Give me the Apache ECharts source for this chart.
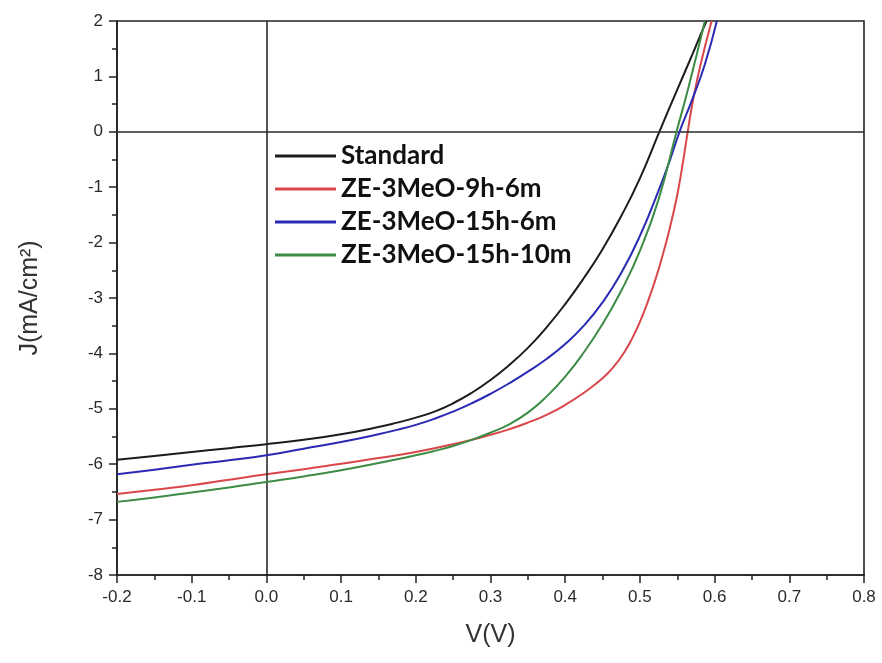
<!DOCTYPE html>
<html>
<head>
<meta charset="utf-8">
<script src="https://cdn.jsdelivr.net/npm/echarts@6/dist/echarts.min.js"></script>
<style>
html,body{margin:0;padding:0;background:#fff;}
#chart{width:882px;height:663px;}
</style>
</head>
<body>
<div id="chart"></div>
<script>
// X tick values (V) and Y tick values (J)
const xTicks = [-0.2, -0.1, 0.0, 0.1, 0.2, 0.3, 0.4, 0.5, 0.6, 0.7, 0.8];
const yTicks = [-8, -7, -6, -5, -4, -3, -2, -1, 0, 1, 2];
const seriesNames = ["Standard", "ZE-3MeO-9h-6m", "ZE-3MeO-15h-6m", "ZE-3MeO-15h-10m"];

// Standard (black)
const vStandard = [-0.2, -0.15, -0.1, -0.05, 0.0, 0.05, 0.1, 0.15, 0.175, 0.2, 0.225, 0.25, 0.275, 0.3, 0.325, 0.35, 0.375, 0.4, 0.425, 0.45, 0.475, 0.5, 0.526, 0.55, 0.57, 0.589];
const jStandard = [-5.92, -5.85, -5.78, -5.71, -5.64, -5.56, -5.46, -5.33, -5.25, -5.16, -5.05, -4.90, -4.71, -4.48, -4.21, -3.90, -3.53, -3.11, -2.64, -2.12, -1.52, -0.84, 0.0, 0.76, 1.39, 2.0];
// ZE-3MeO-9h-6m (red)
const vRed = [-0.2, -0.15, -0.1, -0.05, 0.0, 0.05, 0.1, 0.15, 0.2, 0.25, 0.3, 0.325, 0.35, 0.375, 0.4, 0.425, 0.45, 0.465, 0.48, 0.49, 0.5, 0.51, 0.52, 0.53, 0.54, 0.55, 0.557, 0.564, 0.571, 0.581, 0.596];
const jRed = [-6.54, -6.46, -6.38, -6.28, -6.18, -6.09, -5.99, -5.89, -5.78, -5.64, -5.47, -5.37, -5.25, -5.11, -4.93, -4.71, -4.45, -4.24, -3.96, -3.72, -3.43, -3.09, -2.70, -2.25, -1.74, -1.14, -0.60, 0.0, 0.56, 1.20, 2.0];
// ZE-3MeO-15h-6m (blue)
const vBlue = [-0.2, -0.15, -0.1, -0.05, 0.0, 0.05, 0.1, 0.15, 0.175, 0.2, 0.225, 0.25, 0.275, 0.3, 0.325, 0.35, 0.375, 0.4, 0.425, 0.45, 0.475, 0.5, 0.525, 0.54, 0.553, 0.57, 0.587, 0.603];
const jBlue = [-6.18, -6.10, -6.01, -5.93, -5.84, -5.72, -5.60, -5.46, -5.38, -5.29, -5.18, -5.05, -4.90, -4.73, -4.54, -4.33, -4.10, -3.83, -3.50, -3.08, -2.55, -1.88, -1.06, -0.52, 0.0, 0.58, 1.22, 2.0];
// ZE-3MeO-15h-10m (green)
const vGreen = [-0.2, -0.15, -0.1, -0.05, 0.0, 0.05, 0.1, 0.15, 0.175, 0.2, 0.225, 0.25, 0.275, 0.3, 0.325, 0.35, 0.375, 0.4, 0.425, 0.45, 0.475, 0.5, 0.525, 0.549, 0.565, 0.587];
const jGreen = [-6.68, -6.60, -6.51, -6.42, -6.32, -6.22, -6.11, -5.98, -5.91, -5.84, -5.76, -5.67, -5.56, -5.43, -5.28, -5.07, -4.78, -4.42, -3.98, -3.47, -2.87, -2.15, -1.22, 0.0, 0.80, 2.0];

const colors = ["#1c1c1c", "#d9474a", "#2a2ab4", "#3c8c46"];

function pairs(v, j) { return v.map((x, i) => [x, j[i]]); }
const allData = [pairs(vStandard, jStandard), pairs(vRed, jRed), pairs(vBlue, jBlue), pairs(vGreen, jGreen)];

const chart = echarts.init(document.getElementById('chart'), null, {renderer: 'canvas'});
const axisCol = '#222';
const labelFont = {fontFamily: '"Liberation Sans", Arial, sans-serif', fontSize: 17, color: '#2a2a2a'};

const series = seriesNames.map((name, i) => ({
  name: name,
  type: 'line',
  data: allData[i],
  showSymbol: false,
  smooth: 0.5,
  lineStyle: {color: colors[i], width: 2},
  itemStyle: {color: colors[i]},
  z: 3 + i
}));
series.push({
  name: '_zero',
  type: 'line',
  data: [],
  silent: true,
  markLine: {
    silent: true,
    symbol: 'none',
    label: {show: false},
    lineStyle: {color: '#2a2a2a', width: 1.6, type: 'solid'},
    data: [{xAxis: 0}, {yAxis: 0}]
  }
});

chart.setOption({
  animation: false,
  backgroundColor: '#fff',
  grid: {left: 117, right: 18, top: 21, bottom: 88, show: true, borderColor: axisCol, borderWidth: 1.6, containLabel: false},
  legend: {
    data: seriesNames,
    orient: 'vertical',
    left: 270,
    top: 138,
    icon: 'rect',
    itemWidth: 61,
    itemHeight: 3,
    itemGap: 7,
    textStyle: {fontFamily: 'Lato, "Open Sans", sans-serif', fontWeight: 'bold', fontSize: 26, lineHeight: 26, color: '#111'}
  },
  xAxis: {
    type: 'value',
    min: xTicks[0],
    max: xTicks[xTicks.length - 1],
    interval: 0.1,
    name: 'V(V)',
    nameLocation: 'middle',
    nameGap: 48,
    nameTextStyle: {fontFamily: '"Liberation Sans", Arial, sans-serif', fontSize: 25, color: '#333'},
    axisLine: {show: true, onZero: false, lineStyle: {color: axisCol, width: 1.6}},
    axisTick: {show: true, inside: false, length: 8, lineStyle: {color: axisCol, width: 1.5}},
    minorTick: {show: true, splitNumber: 2, length: 5, lineStyle: {color: axisCol, width: 1.5}},
    splitLine: {show: false},
    axisLabel: Object.assign({margin: 14, formatter: v => v.toFixed(1)}, labelFont)
  },
  yAxis: {
    type: 'value',
    min: yTicks[0],
    max: yTicks[yTicks.length - 1],
    interval: 1,
    name: 'J(mA/cm²)',
    nameLocation: 'middle',
    nameGap: 74,
    nameRotate: 90,
    nameTextStyle: {fontFamily: '"Liberation Sans", Arial, sans-serif', fontSize: 25, color: '#333'},
    axisLine: {show: true, onZero: false, lineStyle: {color: axisCol, width: 1.6}},
    axisTick: {show: true, inside: false, length: 8, lineStyle: {color: axisCol, width: 1.5}},
    minorTick: {show: true, splitNumber: 2, length: 5, lineStyle: {color: axisCol, width: 1.5}},
    splitLine: {show: false},
    axisLabel: Object.assign({margin: 14}, labelFont)
  },
  series: series
});
</script>
</body>
</html>
